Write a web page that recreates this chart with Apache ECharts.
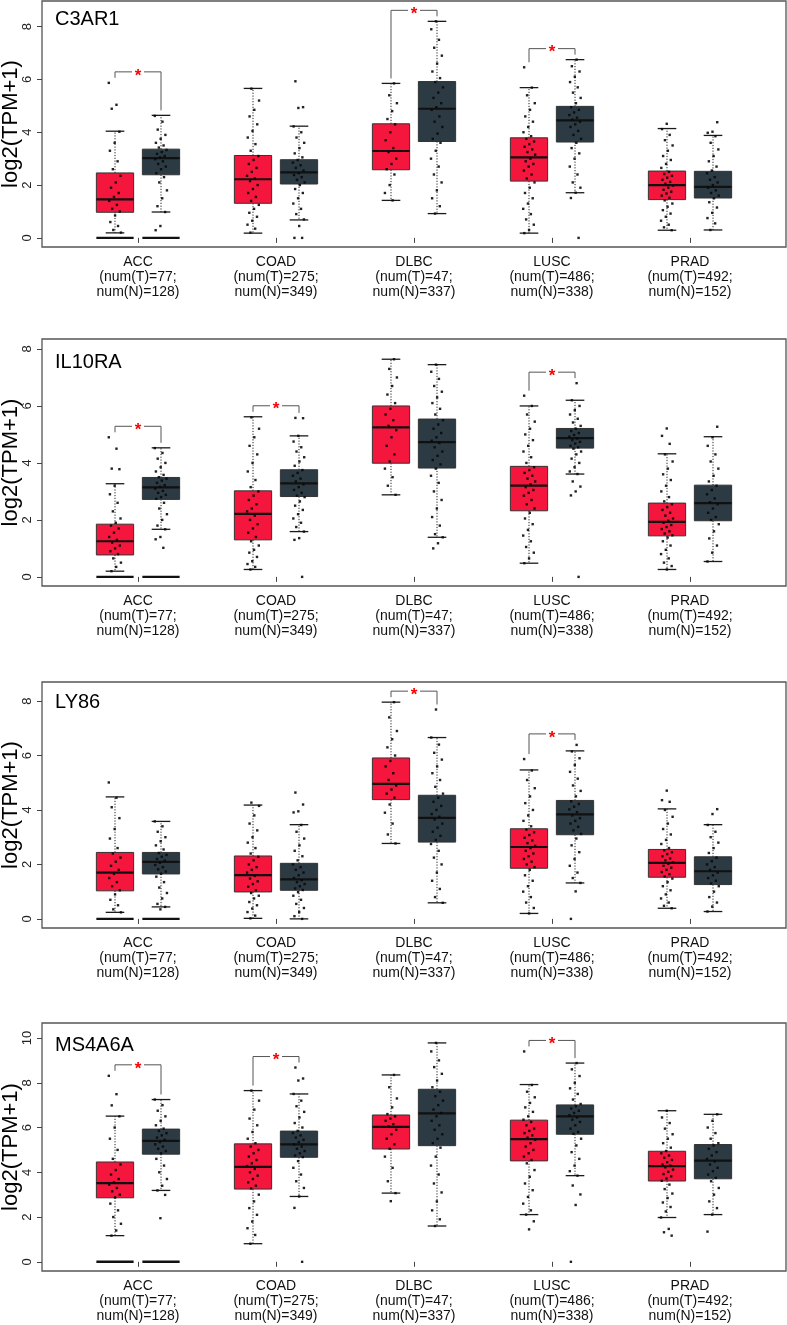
<!DOCTYPE html>
<html><head><meta charset="utf-8">
<script src="https://cdn.jsdelivr.net/npm/echarts@6/dist/echarts.min.js"></script>
<style>html,body{margin:0;padding:0;background:#fff}#c{width:787px;height:1325px}</style>
</head><body><div id="c"></div>
<script>
// ---------------- DATA ----------------
const cancers = ['ACC', 'COAD', 'DLBC', 'LUSC', 'PRAD'];
const numT = [77, 275, 47, 486, 492];
const numN = [128, 349, 337, 338, 152];
const genes = ['C3AR1', 'IL10RA', 'LY86', 'MS4A6A'];
const yTicks = [[0, 2, 4, 6, 8], [0, 2, 4, 6, 8], [0, 2, 4, 6, 8], [0, 2, 4, 6, 8, 10]];
const yRanges = [[-0.345, 8.97], [-0.32, 8.35], [-0.335, 8.70], [-0.41, 10.67]];
// groups with many zero values (dense row of points at 0)
const zeroRowT = [1, 0, 0, 0, 0];
const zeroRowN = [1, 0, 0, 0, 0];

// box stats: [lower whisker, Q1, median, Q3, upper whisker]
const C3AR1_tumorBox = [[0.19,0.97,1.46,2.46,4.04],[0.18,1.31,2.22,3.12,5.66],[1.42,2.58,3.29,4.32,5.85],[0.18,2.15,3.05,3.79,5.69],[0.29,1.45,2.00,2.53,4.14]];
const C3AR1_normalBox = [[0.98,2.39,3.02,3.36,4.64],[0.68,2.04,2.48,2.96,4.23],[0.92,3.65,4.89,5.92,8.20],[1.71,3.63,4.45,4.98,6.75],[0.30,1.51,1.93,2.52,3.88]];
const C3AR1_sig = [1, 0, 1, 1, 0];
const C3AR1_tumorPts = [
  [5.87,5.04,4.89,4.02,3.6,3.3,2.9,2.6,2.35,2.1,1.9,1.7,1.55,1.4,1.25,1.1,1.0,0.85,0.6,0.45,0.3,0.2],
  [5.65,5.2,4.85,4.6,4.3,4.05,3.8,3.55,3.3,3.1,2.95,2.8,2.65,2.5,2.35,2.25,2.15,2.0,1.85,1.7,1.55,1.4,1.25,1.1,0.95,0.8,0.65,0.5,0.35,0.2],
  [5.85,5.4,5.1,4.8,4.5,4.3,4.0,3.7,3.4,3.25,3.0,2.8,2.6,2.4,2.0,1.7,1.42],
  [6.46,5.69,5.4,5.1,4.85,4.6,4.4,4.2,4.0,3.85,3.75,3.65,3.55,3.45,3.35,3.25,3.15,3.0,2.9,2.8,2.7,2.55,2.4,2.25,2.1,1.9,1.7,1.5,1.3,1.1,0.9,0.7,0.5,0.3,0.18],
  [4.32,4.12,3.9,3.7,3.5,3.3,3.1,2.95,2.8,2.65,2.5,2.42,2.35,2.28,2.2,2.12,2.05,1.98,1.9,1.82,1.75,1.68,1.6,1.52,1.42,1.3,1.18,1.05,0.92,0.8,0.65,0.5,0.4,0.29]
];
const C3AR1_normalPts = [
  [4.62,4.4,4.1,3.9,3.75,3.6,3.5,3.42,3.33,3.25,3.18,3.1,3.05,2.98,2.9,2.8,2.7,2.6,2.45,2.3,2.1,1.8,1.5,1.2,0.98,0.45,0.29],
  [5.93,4.95,4.92,4.22,4.0,3.8,3.6,3.4,3.2,3.05,2.95,2.85,2.75,2.65,2.55,2.45,2.38,2.3,2.2,2.1,2.0,1.85,1.7,1.5,1.3,1.1,0.9,0.7,0.45,0,0],
  [8.2,7.9,7.5,7.2,6.9,6.6,6.3,6.05,5.9,5.7,5.5,5.3,5.1,4.95,4.85,4.6,4.4,4.2,3.95,3.75,3.6,3.3,3.0,2.7,2.4,2.1,1.8,1.5,1.2,0.92],
  [6.75,6.5,6.3,6.1,5.9,5.7,5.5,5.3,5.1,4.95,4.85,4.75,4.65,4.55,4.48,4.4,4.3,4.2,4.05,3.9,3.75,3.6,3.4,3.2,3.0,2.7,2.4,2.1,1.9,1.71,1.51,0],
  [4.38,4.02,3.98,3.85,3.6,3.35,3.1,2.9,2.7,2.55,2.45,2.3,2.2,2.1,2.0,1.9,1.8,1.7,1.6,1.5,1.35,1.15,0.95,0.75,0.55,0.3]
];

const IL10RA_tumorBox = [[0.20,0.77,1.25,1.85,3.27],[0.26,1.30,2.21,3.02,5.62],[2.88,3.99,5.25,6.00,7.64],[0.48,2.32,3.20,3.88,6.00],[0.26,1.44,1.93,2.59,4.32]];
const IL10RA_normalBox = [[1.67,2.72,3.14,3.49,4.53],[1.59,2.82,3.28,3.76,4.95],[1.39,3.82,4.73,5.54,7.45],[3.61,4.52,4.87,5.21,6.20],[0.54,1.97,2.59,3.22,4.92]];
const IL10RA_sig = [1, 1, 0, 1, 0];
const IL10RA_tumorPts = [
  [4.9,4.5,3.8,3.78,3.2,2.9,2.6,2.3,2.05,1.9,1.8,1.7,1.55,1.4,1.3,1.2,1.1,1.0,0.9,0.8,0.65,0.5,0.35,0.2],
  [5.6,5.2,4.9,4.6,4.3,4.0,3.7,3.4,3.15,3.0,2.85,2.7,2.55,2.4,2.3,2.15,2.0,1.85,1.7,1.55,1.4,1.25,1.1,0.95,0.85,0.7,0.55,0.45,0.35,0.26],
  [7.64,7.3,7.0,6.7,6.4,6.1,5.9,5.7,5.5,5.3,5.15,4.9,4.6,4.3,4.05,3.8,3.5,3.2,2.88],
  [6.36,6.0,5.7,5.45,5.2,5.0,4.8,4.6,4.4,4.2,4.0,3.85,3.75,3.65,3.55,3.45,3.35,3.25,3.15,3.05,2.95,2.85,2.7,2.55,2.4,2.25,2.05,1.85,1.65,1.45,1.25,1.05,0.85,0.65,0.48],
  [5.21,4.95,4.67,4.3,4.05,3.8,3.6,3.4,3.2,3.0,2.8,2.65,2.55,2.45,2.35,2.25,2.15,2.05,1.97,1.9,1.82,1.75,1.68,1.6,1.52,1.46,1.38,1.25,1.1,0.95,0.8,0.65,0.5,0.38,0.26]
];
const IL10RA_normalPts = [
  [4.52,4.35,4.15,4.0,3.85,3.7,3.58,3.5,3.45,3.38,3.3,3.22,3.16,3.1,3.02,2.95,2.88,2.8,2.74,2.6,2.4,2.2,2.0,1.8,1.67,1.4,1.32,1.02],
  [5.58,5.57,4.95,4.75,4.55,4.4,4.2,4.05,3.9,3.75,3.65,3.55,3.45,3.35,3.25,3.15,3.05,2.95,2.85,2.8,2.65,2.5,2.35,2.2,2.05,1.9,1.75,1.59,1.36,1.3,0],
  [7.45,7.2,6.95,6.7,6.5,6.3,6.1,5.9,5.7,5.5,5.35,5.2,5.05,4.9,4.78,4.7,4.55,4.4,4.25,4.1,3.95,3.8,3.55,3.3,3.0,2.7,2.4,2.1,1.8,1.5,1.39,1.18,1.0],
  [6.8,6.2,6.0,5.85,5.7,5.55,5.42,5.3,5.2,5.12,5.05,4.98,4.92,4.86,4.8,4.74,4.68,4.6,4.55,4.5,4.4,4.3,4.15,4.0,3.85,3.7,3.61,3.35,3.17,3.0,2.86,0],
  [5.27,4.9,4.6,4.3,4.05,3.8,3.55,3.35,3.2,3.05,2.9,2.75,2.62,2.55,2.4,2.25,2.1,2.0,1.85,1.6,1.35,1.1,0.85,0.54]
];

const LY86_tumorBox = [[0.24,1.03,1.70,2.44,4.48],[0.02,0.99,1.61,2.31,4.18],[2.77,4.38,4.96,5.91,7.96],[0.20,1.86,2.64,3.31,5.47],[0.39,1.53,2.06,2.55,4.04]];
const LY86_normalBox = [[0.44,1.65,2.09,2.44,3.58],[0.00,1.05,1.45,2.04,3.46],[0.59,2.82,3.71,4.54,6.66],[1.32,3.09,3.84,4.35,6.17],[0.27,1.26,1.75,2.28,3.46]];
const LY86_sig = [0, 0, 1, 1, 0];
const LY86_tumorPts = [
  [5.01,4.45,4.1,3.7,3.3,2.95,2.6,2.4,2.25,2.1,1.95,1.8,1.65,1.5,1.35,1.2,1.05,0.9,0.7,0.5,0.35,0.24],
  [4.27,4.15,3.8,3.5,3.25,3.0,2.8,2.6,2.4,2.28,2.15,2.0,1.9,1.8,1.7,1.58,1.48,1.38,1.28,1.18,1.05,0.95,0.85,0.75,0.62,0.5,0.38,0.25,0.12,0.02],
  [7.96,7.4,6.9,6.6,6.3,6.0,5.8,5.6,5.35,5.1,4.9,4.75,4.6,4.45,4.2,3.9,3.5,3.1,2.77],
  [5.87,5.45,5.1,4.8,4.5,4.25,4.0,3.8,3.6,3.4,3.28,3.18,3.08,2.98,2.88,2.78,2.68,2.6,2.5,2.4,2.3,2.2,2.1,2.0,1.9,1.8,1.6,1.4,1.2,1.0,0.8,0.6,0.4,0.2],
  [4.71,4.36,4.3,4.0,3.75,3.5,3.3,3.1,2.9,2.75,2.6,2.52,2.45,2.38,2.3,2.22,2.15,2.08,2.02,1.95,1.88,1.8,1.72,1.64,1.56,1.48,1.35,1.2,1.05,0.9,0.75,0.6,0.48,0.39]
];
const LY86_normalPts = [
  [3.58,3.4,3.2,3.0,2.85,2.7,2.55,2.42,2.35,2.28,2.2,2.14,2.06,1.98,1.9,1.82,1.74,1.66,1.55,1.35,1.15,0.95,0.75,0.55,0.44,0.35],
  [4.64,4.2,3.95,3.91,3.45,3.2,2.95,2.7,2.5,2.3,2.15,2.0,1.9,1.8,1.7,1.6,1.5,1.42,1.35,1.28,1.2,1.12,1.06,0.98,0.85,0.7,0.55,0.4,0.25,0.1,0],
  [7.69,6.66,6.4,6.1,5.85,5.6,5.35,5.1,4.85,4.6,4.45,4.3,4.15,4.0,3.85,3.75,3.65,3.5,3.35,3.2,3.05,2.9,2.75,2.5,2.25,2.0,1.7,1.4,1.1,0.8,0.59],
  [6.39,6.15,5.9,5.65,5.4,5.15,4.9,4.7,4.5,4.32,4.22,4.12,4.02,3.92,3.8,3.7,3.6,3.5,3.38,3.25,3.12,2.95,2.7,2.45,2.2,1.95,1.7,1.5,1.32,1.01,0],
  [4.03,3.85,3.45,3.2,3.0,2.8,2.6,2.42,2.25,2.12,2.0,1.9,1.8,1.7,1.6,1.5,1.4,1.3,1.2,1.0,0.8,0.6,0.45,0.27]
];

const MS4A6A_tumorBox = [[1.17,2.86,3.52,4.46,6.51],[0.81,3.25,4.24,5.27,7.65],[3.07,5.04,6.03,6.56,8.35],[2.11,4.51,5.48,6.33,7.92],[1.98,3.61,4.28,4.94,6.75]];
const MS4A6A_normalBox = [[3.19,4.81,5.40,5.93,7.25],[2.92,4.67,5.25,5.84,7.50],[1.60,5.19,6.63,7.71,9.78],[3.85,5.70,6.50,7.01,8.88],[2.11,3.71,4.52,5.24,6.59]];
const MS4A6A_sig = [1, 1, 0, 1, 0];
const MS4A6A_tumorPts = [
  [8.31,7.49,6.99,6.5,6.0,5.5,5.0,4.6,4.35,4.1,3.9,3.7,3.55,3.45,3.3,3.15,3.0,2.88,2.6,2.3,2.0,1.7,1.4,1.17],
  [7.65,7.2,6.8,6.4,6.1,5.8,5.5,5.3,5.15,5.0,4.85,4.7,4.55,4.4,4.28,4.15,4.0,3.85,3.7,3.55,3.4,3.28,3.0,2.7,2.4,2.1,1.8,1.5,1.2,0.81],
  [8.35,7.8,7.3,6.9,6.6,6.5,6.4,6.3,6.15,6.05,5.9,5.7,5.5,5.25,5.05,4.7,4.2,3.6,3.07,2.71],
  [9.4,7.9,7.6,7.35,7.1,6.9,6.7,6.5,6.35,6.25,6.1,5.95,5.85,5.75,5.65,5.55,5.45,5.3,5.15,5.0,4.85,4.7,4.55,4.4,4.1,3.8,3.5,3.2,2.9,2.6,2.3,2.11,1.81,1.45],
  [6.75,6.45,6.2,5.95,5.7,5.5,5.3,5.1,4.95,4.85,4.75,4.65,4.55,4.45,4.35,4.3,4.22,4.12,4.02,3.92,3.82,3.72,3.62,3.45,3.25,3.05,2.85,2.65,2.45,2.25,1.98,1.47,1.32,1.17]
];
const MS4A6A_normalPts = [
  [7.25,7.0,6.75,6.5,6.3,6.1,5.95,5.85,5.75,5.65,5.55,5.45,5.35,5.25,5.15,5.05,4.95,4.85,4.6,4.3,4.0,3.7,3.4,3.19,2.99,1.95],
  [8.68,8.19,8.1,7.5,7.2,6.95,6.7,6.45,6.2,6.0,5.85,5.75,5.65,5.55,5.45,5.35,5.25,5.15,5.05,4.95,4.85,4.75,4.68,4.5,4.2,3.9,3.6,3.3,2.92,2.41,0],
  [9.78,9.4,9.0,8.7,8.4,8.1,7.8,7.6,7.4,7.2,7.0,6.8,6.65,6.5,6.3,6.1,5.9,5.7,5.5,5.3,5.1,4.7,4.3,3.9,3.5,3.1,2.7,2.3,1.9,1.6],
  [8.88,8.6,8.3,8.0,7.75,7.5,7.25,7.05,6.95,6.85,6.75,6.65,6.55,6.45,6.35,6.25,6.1,5.95,5.8,5.72,5.5,5.2,4.9,4.6,4.3,4.05,3.85,3.41,3.01,2.54,0],
  [6.59,6.3,6.0,5.75,5.5,5.3,5.2,5.05,4.9,4.75,4.6,4.48,4.35,4.2,4.05,3.9,3.75,3.6,3.3,3.0,2.7,2.4,2.11,1.35]
];

// ---------------- LAYOUT / STYLE ----------------
const panels = [
  { gene: genes[0], tBox: C3AR1_tumorBox, nBox: C3AR1_normalBox, tPts: C3AR1_tumorPts, nPts: C3AR1_normalPts, sig: C3AR1_sig },
  { gene: genes[1], tBox: IL10RA_tumorBox, nBox: IL10RA_normalBox, tPts: IL10RA_tumorPts, nPts: IL10RA_normalPts, sig: IL10RA_sig },
  { gene: genes[2], tBox: LY86_tumorBox, nBox: LY86_normalBox, tPts: LY86_tumorPts, nPts: LY86_normalPts, sig: LY86_sig },
  { gene: genes[3], tBox: MS4A6A_tumorBox, nBox: MS4A6A_normalBox, tPts: MS4A6A_tumorPts, nPts: MS4A6A_normalPts, sig: MS4A6A_sig }
];
const gridTop = [1, 339, 682, 1023];
const gridH = [246, 247, 246, 248];
const titleTop = [9, 352, 692, 1035];
const FONT = '"Liberation Sans", Arial, Helvetica, sans-serif';
const RED = '#F5163D';
const GREY = '#2C3A43';
const GROUP_OFF = 1 / 6;   // tumour left, normal right of category centre
const BOX_W = 0.27;        // box width in x-axis units
const JIT = 0.045;         // jitter half-width in x units

const chart = echarts.init(document.getElementById('c'), null, { renderer: 'canvas' });

function renderBox(params, api) {
  const x = api.value(0);
  const lo = api.coord([x, api.value(1)])[1];
  const q1 = api.coord([x, api.value(2)])[1];
  const md = api.coord([x, api.value(3)])[1];
  const q3 = api.coord([x, api.value(4)])[1];
  const hi = api.coord([x, api.value(5)])[1];
  const zero = api.value(6);
  const grp = api.value(7);
  const y0 = api.coord([x, 0])[1];
  const cx = api.coord([x, 0])[0];
  const w = api.size([BOX_W, 0])[0];
  const dash = { stroke: '#222', lineWidth: 1, lineDash: [1.2, 1.6] };
  const cap = { stroke: '#1a1a1a', lineWidth: 1.3 };
  const ch = [
    { type: 'line', shape: { x1: cx, y1: q3, x2: cx, y2: hi }, style: dash },
    { type: 'line', shape: { x1: cx, y1: q1, x2: cx, y2: lo }, style: dash },
    { type: 'line', shape: { x1: cx - w / 4, y1: hi, x2: cx + w / 4, y2: hi }, style: cap },
    { type: 'line', shape: { x1: cx - w / 4, y1: lo, x2: cx + w / 4, y2: lo }, style: cap },
    { type: 'rect', shape: { x: cx - w / 2, y: q3, width: w, height: q1 - q3 }, style: { fill: grp ? GREY : RED, stroke: '#333', lineWidth: 1 } },
    { type: 'line', shape: { x1: cx - w / 2, y1: md, x2: cx + w / 2, y2: md }, style: { stroke: '#111', lineWidth: 2.2 } }
  ];
  if (zero) ch.push({ type: 'line', shape: { x1: cx - w / 2, y1: y0, x2: cx + w / 2, y2: y0 }, style: { stroke: '#111', lineWidth: 2.4 } });
  return { type: 'group', children: ch };
}

function renderBracket(params, api) {
  const x = api.value(0);
  const maxT = api.value(1), maxN = api.value(2);
  const pT = api.coord([x - GROUP_OFF, maxT]);
  const pN = api.coord([x + GROUP_OFF, maxN]);
  const top = Math.min(pT[1], pN[1]) - 11;
  const mid = (pT[0] + pN[0]) / 2;
  const st = { stroke: '#555', lineWidth: 1 };
  return {
    type: 'group', children: [
      { type: 'line', shape: { x1: pT[0], y1: pT[1] - 5, x2: pT[0], y2: top }, style: st },
      { type: 'line', shape: { x1: pT[0], y1: top, x2: mid - 6, y2: top }, style: st },
      { type: 'line', shape: { x1: mid + 6, y1: top, x2: pN[0], y2: top }, style: st },
      { type: 'line', shape: { x1: pN[0], y1: top, x2: pN[0], y2: pN[1] - 5 }, style: st },
      { type: 'text', style: { text: '*', x: mid, y: top + 4, fill: '#FF0000', fontSize: 17, fontWeight: 'bold', fontFamily: FONT, align: 'center', verticalAlign: 'middle' } }
    ]
  };
}

const option = {
  animation: false,
  backgroundColor: '#fff',
  title: [], grid: [], xAxis: [], yAxis: [], series: []
};

panels.forEach((p, g) => {
  option.title.push({ text: p.gene, left: 55, top: titleTop[g], padding: 0,
    textStyle: { fontFamily: FONT, fontSize: 20, fontWeight: 'normal', color: '#000' } });
  option.grid.push({ left: 42, right: 1, top: gridTop[g], height: gridH[g], show: true,
    outerBoundsMode: 'none', containLabel: false,
    borderColor: '#555', borderWidth: 1.3, backgroundColor: 'transparent' });
  option.xAxis.push({ type: 'value', gridIndex: g, min: 42 / 138, max: 786 / 138,
    axisLine: { show: false }, splitLine: { show: false },
    axisTick: { show: true, length: 5, customValues: [1, 2, 3, 4, 5], lineStyle: { color: '#444', width: 1 } },
    axisLabel: { customValues: [1, 2, 3, 4, 5], margin: 8, fontFamily: FONT, fontSize: 14, lineHeight: 15, color: '#111',
      formatter: v => { const i = Math.round(v) - 1; return cancers[i] + '\n(num(T)=' + numT[i] + ';\nnum(N)=' + numN[i] + ')'; } } });
  option.yAxis.push({ type: 'value', gridIndex: g, min: yRanges[g][0], max: yRanges[g][1],
    name: 'log2(TPM+1)', nameLocation: 'middle', nameGap: 20, nameMoveOverlap: false,
    nameTextStyle: { fontFamily: FONT, fontSize: 22, color: '#000' },
    axisLine: { show: false }, splitLine: { show: false },
    axisTick: { show: true, length: 5, customValues: yTicks[g], lineStyle: { color: '#444', width: 1 } },
    axisLabel: { customValues: yTicks[g], rotate: 90, margin: 8, fontFamily: FONT, fontSize: 13, color: '#222' } });

  const boxData = [], brData = [], ptT = [], ptN = [];
  cancers.forEach((c, i) => {
    const xc = i + 1;
    const t = p.tBox[i], n = p.nBox[i];
    boxData.push([xc - GROUP_OFF, t[0], t[1], t[2], t[3], t[4], zeroRowT[i], 0]);
    boxData.push([xc + GROUP_OFF, n[0], n[1], n[2], n[3], n[4], zeroRowN[i], 1]);
    p.tPts[i].forEach((v, k) => ptT.push([xc - GROUP_OFF + (((k * 0.6180339887 + i * 0.37) % 1) - 0.5) * 2 * JIT, v]));
    p.nPts[i].forEach((v, k) => ptN.push([xc + GROUP_OFF + (((k * 0.6180339887 + i * 0.21) % 1) - 0.5) * 2 * JIT, v]));
    if (p.sig[i]) {
      const maxT = Math.max(t[4], ...p.tPts[i]);
      const maxN = Math.max(n[4], ...p.nPts[i]);
      brData.push([xc, maxT, maxN]);
    }
  });
  option.series.push({ type: 'custom', xAxisIndex: g, yAxisIndex: g, renderItem: renderBox, data: boxData,
    encode: { x: 0, y: [1, 2, 3, 4, 5] }, silent: true, z: 2 });
  option.series.push({ type: 'scatter', xAxisIndex: g, yAxisIndex: g, data: ptT.concat(ptN), symbol: 'rect', symbolSize: 2.4,
    itemStyle: { color: '#0a0a0a', opacity: 0.9 }, silent: true, z: 3 });
  option.series.push({ type: 'custom', xAxisIndex: g, yAxisIndex: g, renderItem: renderBracket, data: brData,
    encode: { x: 0, y: [1, 2] }, silent: true, z: 4, clip: false });
});

chart.setOption(option);
</script>
</body></html>
